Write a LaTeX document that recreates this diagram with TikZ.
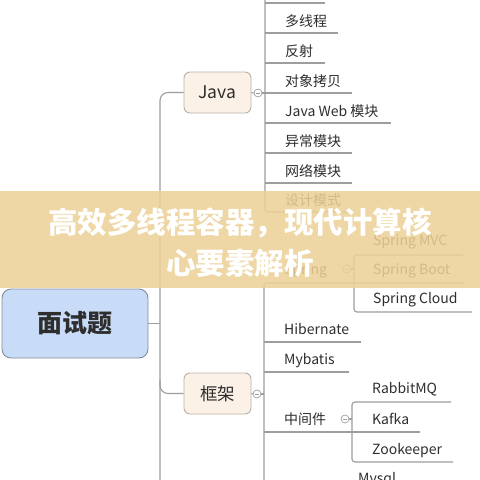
\documentclass[tikz,border=0pt]{standalone}
\usepackage{fontspec}
\setmainfont{Noto Sans CJK SC}
\definecolor{linegray}{HTML}{9E9E9E}
\definecolor{textgray}{HTML}{2E2E2E}
\definecolor{rootfill}{HTML}{C8DCF8}
\definecolor{rootborder}{HTML}{858C98}
\definecolor{topicfill}{HTML}{FBF1E6}
\definecolor{topicborder}{HTML}{B9B1A9}
\definecolor{bannerfill}{HTML}{ECD197}
\begin{document}
\begin{tikzpicture}[x=1pt,y=-1pt,
  link/.style={draw=linegray, line width=1.1pt},
  leaf/.style={anchor=west, inner sep=0pt, text=textgray, text height=10.6pt, text depth=0pt,
    font=\fontsize{14}{16}\selectfont},
  topic/.style={draw=topicborder, fill=topicfill, rounded corners=6pt, line width=0.9pt,
    minimum width=67pt, minimum height=41pt, inner sep=0pt,
    font=\fontsize{17.5}{20}\selectfont, text=textgray},
  fold/.style={circle, draw=linegray, fill=white, minimum size=8pt, inner sep=0pt, line width=0.7pt,
    path picture={\draw[linegray, line width=0.6pt] ([xshift=-2pt]path picture bounding box.center) -- ([xshift=2pt]path picture bounding box.center);}},
]
\useasboundingbox (0,0) rectangle (480,480);
\clip (0,0) rectangle (480,480);
\fill[white] (0,0) rectangle (480,480);

% root and main topics
\node[draw=rootborder, fill=rootfill, rounded corners=9pt, line width=0.9pt,
  minimum width=146pt, minimum height=69pt, inner sep=0pt,
  font=\fontsize{25}{28}\selectfont\bfseries, text=textgray] (root) at (75,323.5) {面试题};
\node[topic] (java) at (217.5,92.5) {Java};
\node[topic] (kj) at (217.5,393.5) {框架};

% trunk
\coordinate (tj) at (160,92.5);
\coordinate (tk) at (160,393.5);
\coordinate (tr) at (160,323.5);
\coordinate (tb) at (160,480);
\draw[link, rounded corners=8pt] (java.west) -- (tj) -- (tb);
\draw[link, rounded corners=8pt] (kj.west) -- (tk) -- (160,380);
\draw[link] (root.east) -- (tr);

% Java children
\node[fold] (fj) at (258,93) {};
\draw[link] (java.east) -- (fj.west);
\draw[link] (fj.east) -- (265,93);
\draw[link, rounded corners=3pt] (265,0) -- (265,212) -- (352,212);
\draw[link] (265,3) -- (325,3);
\draw[link] (265,33) -- (338,33);
\draw[link] (265,63) -- (325,63);
\draw[link] (265,93) -- (352,93);
\draw[link] (265,123) -- (391,123);
\draw[link] (265,153) -- (352,153);
\draw[link] (265,183) -- (352,183);
\node[leaf] (j1) at (285,21) {多线程};
\node[leaf] (j2) at (285,51) {反射};
\node[leaf] (j3) at (285,81) {对象拷贝};
\node[leaf] (j4) at (285,111) {Java Web 模块};
\node[leaf] (j5) at (285,141) {异常模块};
\node[leaf] (j6) at (285,171) {网络模块};
\node[leaf] (j7) at (285,200.5) {设计模式};

% framework children
\node[fold] (fk) at (257,394) {};
\draw[link] (kj.east) -- (fk.west);
\draw[link] (fk.east) -- (264,394);
\draw[link, rounded corners=3pt] (464,283) -- (264,283) -- (264,480);
\draw[link] (264,342) -- (361,342);
\draw[link] (264,372) -- (349,372);
\draw[link] (264,432) -- (420,432);
\node[leaf] (sp) at (284,269.5) {Spring};
\node[leaf] (hb) at (284,329) {Hibernate};
\node[leaf] (mb) at (284,359) {Mybatis};
\node[leaf] (mw) at (284,419) {中间件};

% Spring children
\node[fold] (fs) at (347,269) {};
\draw[link] (fs.east) -- (354,269);
\draw[link, rounded corners=3pt] (463,255) -- (354,255) -- (354,312) -- (472,312);
\node[leaf] (s1) at (373,240.5) {Spring MVC};
\node[leaf] (s2) at (373,269.5) {Spring Boot};
\node[leaf] (s3) at (373,298.5) {Spring Cloud};

% middleware children
\node[fold] (fm) at (345,419) {};
\draw[link] (fm.east) -- (352,419);
\draw[link, rounded corners=3pt] (451,402) -- (352,402) -- (352,462) -- (453,462);
\node[leaf] (m1) at (372,388.5) {RabbitMQ};
\node[leaf] (m2) at (372,419) {Kafka};
\node[leaf] (m3) at (372,449) {Zookeeper};
\node[leaf] (db) at (358,478.5) {Mysql};

% banner
\fill[bannerfill, opacity=0.86] (0,191) rectangle (480,288);
\node[font=\fontsize{29.5}{41}\selectfont\bfseries, text=white, align=center, inner sep=0pt] (title) at (240,243) {高效多线程容器，现代计算核\\心要素解析};
\end{tikzpicture}
\end{document}
